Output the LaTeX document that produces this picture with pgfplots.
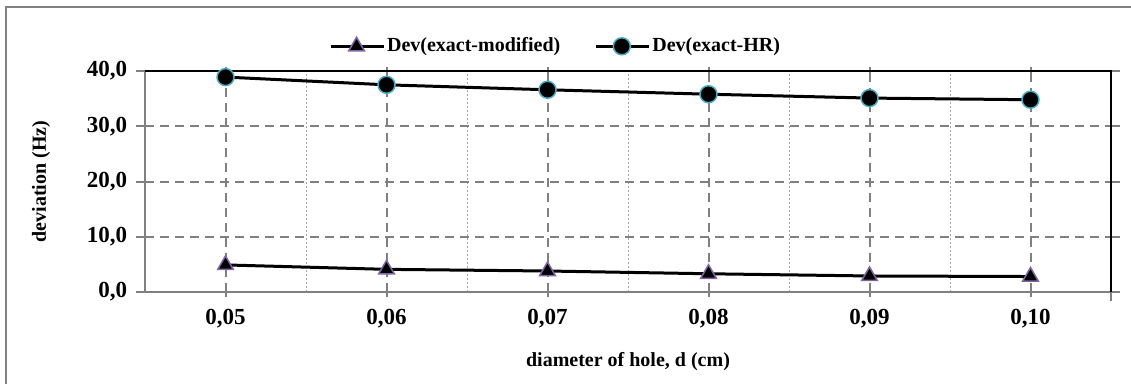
\documentclass[border=0pt]{standalone}
\usepackage{pgfplots}
\pgfplotsset{compat=1.18}
\usepackage{fontspec}
\setmainfont{Liberation Serif}
\definecolor{gridgray}{HTML}{808080}
\definecolor{hrblue}{HTML}{4BACC6}
\definecolor{modpurple}{HTML}{8064A2}
\begin{document}
\fontsize{20pt}{24pt}\selectfont\bfseries
\begin{tikzpicture}[x=1pt,y=1pt]
\path[use as bounding box] (0,0) rectangle (1131,383);
\draw[gridgray, line width=1.5pt] (6,-10) -- (6,376) -- (1140,376);
\begin{axis}[
  at={(145pt,91pt)}, anchor=south west,
  scale only axis, width=966pt, height=221pt,
  xmin=0.045, xmax=0.105, ymin=0, ymax=40,
  xtick={0.05,0.06,0.07,0.08,0.09,0.10},
  minor xtick={0.055,0.065,0.075,0.085,0.095},
  ytick={0,10,20,30,40},
  yticklabels={{0,0},{10,0},{20,0},{30,0},{40,0}},
  xticklabels={{0,05},{0,06},{0,07},{0,08},{0,09},{0,10}},
  /pgf/number format/assume math mode=true,
  xmajorgrids, ymajorgrids, xminorgrids,
  major grid style={gridgray, line width=2pt, dash pattern=on 9pt off 6pt},
  minor grid style={gridgray!70, line width=0.8pt, dash pattern=on 2pt off 2pt},
  axis line style={draw=none},
  tick style={gridgray, line width=2pt},
  major tick length=9pt,
  xtick align=center, ytick align=outside,
  minor x tick style={draw=none},
  tick label style={font=\fontsize{23pt}{26pt}\selectfont\bfseries},
  xticklabel style={yshift=-6pt},
  yticklabel style={xshift=-2pt},
  xlabel={diameter of hole, d (cm)},
  ylabel={deviation (Hz)},
  label style={font=\fontsize{20pt}{24pt}\selectfont\bfseries},
  xlabel style={at={(0.5,0)}, yshift=-54pt, anchor=north},
  ylabel style={at={(0,0.5)}, yshift=88pt, anchor=south},
  legend style={at={(0.425,1.0)}, anchor=south, yshift=14pt, draw=none, fill=none,
    legend columns=2, font=\fontsize{20pt}{24pt}\selectfont\bfseries,
    /tikz/every even column/.append style={column sep=32pt},
    inner sep=0pt},
  legend cell align=left,
  legend image code/.code={
    \draw[mark repeat=2, mark phase=2, #1] plot coordinates {(0pt,0pt) (26pt,0pt) (53pt,0pt)};
  },
  clip=false,
]
\addplot[black, line width=3pt, mark=triangle*, mark size=9pt,
  mark options={fill=black, draw=modpurple, line width=1.5pt}]
  coordinates {(0.05,4.9) (0.06,4.1) (0.07,3.8) (0.08,3.3) (0.09,2.9) (0.10,2.8)};
\addlegendentry{Dev(exact-modified)}
\addplot[black, line width=3pt, mark=*, mark size=8.5pt,
  mark options={fill=black, draw=hrblue, line width=1.5pt}]
  coordinates {(0.05,38.9) (0.06,37.5) (0.07,36.6) (0.08,35.8) (0.09,35.1) (0.10,34.8)};
\addlegendentry{Dev(exact-HR)}
\draw[gridgray, line width=2pt] (rel axis cs:0,1) -- (rel axis cs:0,0) -- (rel axis cs:1,0);
\draw[black, line width=2.5pt] (rel axis cs:0,1) -- (rel axis cs:1,1) -- (rel axis cs:1,0);
\draw[gridgray, line width=2pt] (rel axis cs:1,0) -- ([yshift=-9pt]rel axis cs:1,0);
\end{axis}
\end{tikzpicture}
\end{document}
